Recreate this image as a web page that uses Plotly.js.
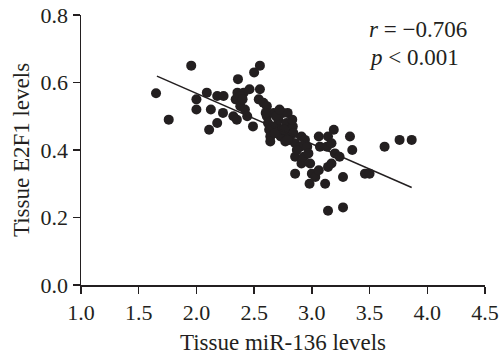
<!DOCTYPE html>
<html>
<head>
<meta charset="utf-8">
<script src="https://cdn.plot.ly/plotly-3.0.1.min.js"></script>
<style>html,body{margin:0;padding:0;background:#fff;}#chart{width:500px;height:362px;}</style>
</head>
<body>
<div id="chart"></div>
<script>
const mirLevels = [1.65,1.76,1.955,2.0,2.0,2.09,2.125,2.11,2.18,2.18,2.235,2.23,2.32,2.35,2.36,2.34,2.355,2.38,2.41,2.42,2.44,2.46,2.49,2.5,2.55,2.55,2.54,2.58,2.61,2.61,2.62,2.63,2.64,2.64,2.67,2.70,2.71,2.73,2.74,2.75,2.77,2.78,2.8,2.79,2.81,2.835,2.83,2.84,2.855,2.855,2.855,2.9,2.91,2.91,2.93,2.94,2.96,2.97,2.985,2.98,3.0,3.03,3.06,3.06,3.07,3.115,3.13,3.14,3.14,3.14,3.17,3.17,3.19,3.20,3.24,3.27,3.27,3.33,3.35,3.46,3.50,3.63,3.76,3.865,2.66,2.69,2.72,2.76,2.79,2.87,2.60,2.68,2.38,2.40];
const e2f1Levels = [0.568,0.49,0.65,0.55,0.52,0.57,0.52,0.46,0.56,0.48,0.56,0.51,0.50,0.49,0.61,0.55,0.57,0.53,0.57,0.52,0.50,0.58,0.47,0.63,0.65,0.58,0.55,0.54,0.53,0.50,0.48,0.46,0.44,0.425,0.51,0.47,0.49,0.44,0.46,0.51,0.425,0.48,0.45,0.51,0.43,0.47,0.49,0.45,0.42,0.38,0.33,0.41,0.44,0.36,0.38,0.43,0.41,0.39,0.36,0.30,0.33,0.32,0.34,0.44,0.41,0.30,0.41,0.44,0.22,0.35,0.36,0.42,0.46,0.39,0.38,0.32,0.23,0.44,0.40,0.33,0.33,0.41,0.43,0.43,0.47,0.50,0.52,0.46,0.43,0.40,0.51,0.45,0.56,0.55];
const fitX = [1.658, 3.865];
const fitY = [0.619, 0.289];
const xTicks = [1.0,1.5,2.0,2.5,3.0,3.5,4.0,4.5];
const yTicks = [0.0,0.2,0.4,0.6,0.8];

const serif = '"Liberation Serif", "DejaVu Serif", serif';
const ink = '#231f20';
const traces = [
  {x: mirLevels, y: e2f1Levels, type: 'scatter', mode: 'markers',
   marker: {color: ink, size: 10}, hoverinfo: 'none'},
  {x: fitX, y: fitY, type: 'scatter', mode: 'lines',
   line: {color: ink, width: 1.5}, hoverinfo: 'none'}
];
const layout = {
  width: 500, height: 362,
  margin: {l: 81, r: 15, t: 15, b: 77},
  paper_bgcolor: '#fff', plot_bgcolor: '#fff',
  showlegend: false,
  font: {family: serif, size: 22, color: ink},
  xaxis: {range: [1.0, 4.5], tickvals: xTicks, ticktext: xTicks.map(v => v.toFixed(1)),
    showgrid: false, zeroline: false, showline: true, linecolor: ink, linewidth: 1.5,
    ticks: 'outside', ticklen: 7, tickwidth: 1.5, tickcolor: ink,
    tickfont: {family: serif, size: 22, color: ink},
    title: {text: 'Tissue miR-136 levels', font: {family: serif, size: 23, color: ink}, standoff: 10}},
  yaxis: {range: [0.0, 0.8], tickvals: yTicks, ticktext: yTicks.map(v => v.toFixed(1)),
    showgrid: false, zeroline: false, showline: true, linecolor: ink, linewidth: 1.5,
    ticks: 'outside', ticklen: 7, tickwidth: 1.5, tickcolor: ink,
    tickfont: {family: serif, size: 22, color: ink},
    title: {text: 'Tissue E2F1 levels', font: {family: serif, size: 23, color: ink}, standoff: 4}},
  annotations: [
    {xref: 'paper', yref: 'paper', x: 0.708, y: 0.948, xanchor: 'left', yanchor: 'middle', showarrow: false,
     text: '<i>r</i> = \u22120.706', font: {family: serif, size: 23, color: ink}},
    {xref: 'paper', yref: 'paper', x: 0.708, y: 0.844, xanchor: 'left', yanchor: 'middle', showarrow: false,
     text: '<i>p</i> < 0.001', font: {family: serif, size: 23, color: ink}}
  ]
};
Plotly.newPlot('chart', traces, layout, {displayModeBar: false, staticPlot: true});
</script>
</body>
</html>
